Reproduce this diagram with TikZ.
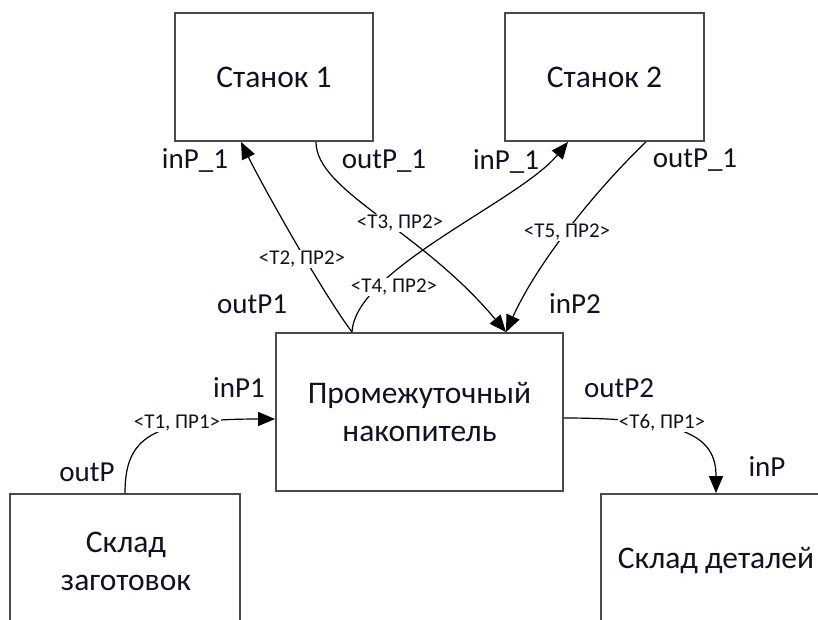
\documentclass[tikz,border=0pt]{standalone}
\usepackage{fontspec}
\setmainfont{Carlito}
\usetikzlibrary{arrows.meta}
\definecolor{boxgray}{HTML}{4A4A4A}
\definecolor{txt}{HTML}{111122}
\begin{document}
\begin{tikzpicture}[x=1pt,y=-1pt,
  box/.style={draw=boxgray, line width=1.8pt, inner sep=0pt, rectangle, align=center,
              font=\fontsize{31.5}{38}\selectfont, text=txt},
  boxtext/.style={font=\fontsize{31.5}{38}\selectfont, align=center, inner sep=0pt, text=txt},
  port/.style={font=\fontsize{29}{30}\selectfont, inner sep=0pt, text=txt},
  tlab/.style={font=\fontsize{21}{22}\selectfont, inner sep=1pt, fill=white, text=txt},
  conn/.style={line width=1.2pt, -{Triangle[length=17pt,width=14pt]}}]
\fill[white] (0,0) rectangle (818,619);
\clip (0,0) rectangle (818,619);
% boxes
\node[box, minimum width=198pt, minimum height=128pt] (s1) at (274,77) {Станок 1};
\node[box, minimum width=199pt, minimum height=128pt] (s2) at (604.5,77) {Станок 2};
\node[box, minimum width=287pt, minimum height=158pt] (nak) at (419.5,412) {Промежуточный\\накопитель};
\node[box, minimum width=230pt, minimum height=200pt] (zag) at (125,594) {};
\node[box, minimum width=230pt, minimum height=200pt] (det) at (716,594) {};
\node[boxtext] (zagt) at (126,561) {Склад\\заготовок};
\node[boxtext] (dett) at (716,560) {Склад деталей};
% connectors
\draw[conn] (zag.north) .. controls +(0,-55) and +(-125,0) .. ([yshift=-7pt]nak.west);
\draw[conn] ([yshift=-6pt]nak.east) .. controls +(125,0) and +(0,-55) .. (det.north);
\draw[conn] ([xshift=-67.5pt]nak.north) .. controls +(-32,-43) and +(19,39) .. ([xshift=-33pt]s1.south);
\draw[conn] ([xshift=-67.5pt]nak.north) .. controls +(3,-63) and +(-48,59) .. ([xshift=-36.5pt]s2.south);
\draw[conn] ([xshift=42pt]s1.south) .. controls +(0,49) and +(-86,-103) .. ([xshift=86.5pt]nak.north);
\draw[conn] ([xshift=41.5pt]s2.south) .. controls +(-46,44) and +(33,-73) .. ([xshift=86.5pt]nak.north);
% connector labels
\node[tlab] (l1) at (177,423) {<T1, ПР1>};
\node[tlab] (l2) at (302,259) {<T2, ПР2>};
\node[tlab] (l3) at (400,223) {<T3, ПР2>};
\node[tlab] (l4) at (394,287) {<T4, ПР2>};
\node[tlab] (l5) at (567,232) {<T5, ПР2>};
\node[tlab] (l6) at (662,423) {<T6, ПР1>};
% port labels
\node[port] (p1) at (195,160) {inP\_1};
\node[port] (p2) at (384,161) {outP\_1};
\node[port] (p3) at (506,161) {inP\_1};
\node[port] (p4) at (695,160) {outP\_1};
\node[port] (p5) at (252,304) {outP1};
\node[port] (p6) at (575,304) {inP2};
\node[port] (p7) at (239,388) {inP1};
\node[port] (p8) at (619,388) {outP2};
\node[port] (p9) at (87,472) {outP};
\node[port] (p10) at (767,467) {inP};
\end{tikzpicture}
\end{document}
